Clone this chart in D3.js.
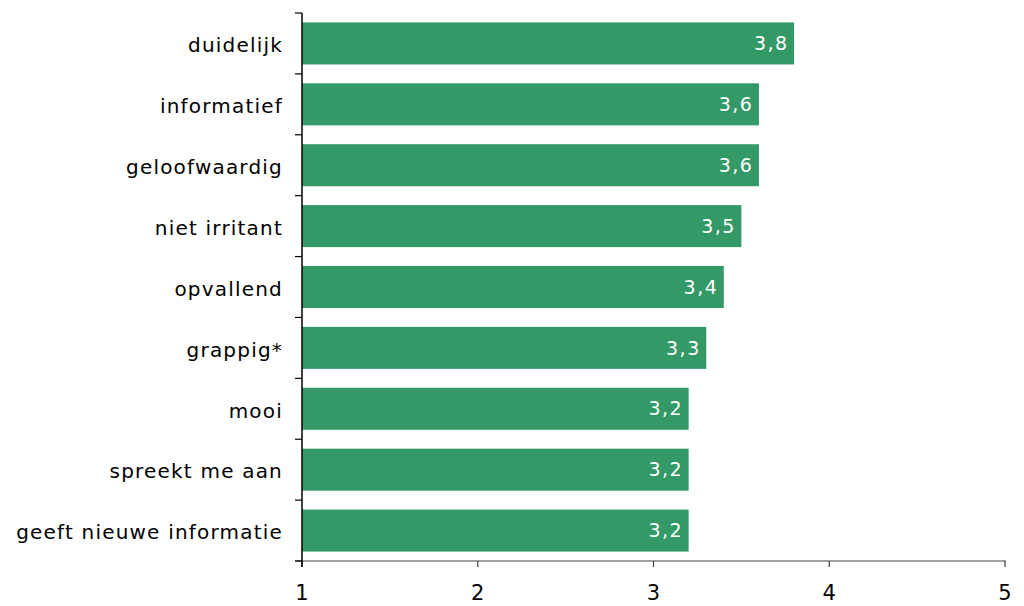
<!DOCTYPE html>
<html><head><meta charset="utf-8">
<script src="https://cdn.jsdelivr.net/npm/d3@7"></script>
<style>body{margin:0;background:#fff}svg{display:block}text{font-family:"DejaVu Sans",Verdana,sans-serif}</style>
</head><body>
<svg id="c" width="1024" height="606"></svg>
<script>
const categories = ["duidelijk","informatief","geloofwaardig","niet irritant","opvallend","grappig*","mooi","spreekt me aan","geeft nieuwe informatie"];
const values = [3.8,3.6,3.6,3.5,3.4,3.3,3.2,3.2,3.2];
const valueLabels = ["3,8","3,6","3,6","3,5","3,4","3,3","3,2","3,2","3,2"];
const xTicks = [1,2,3,4,5];

(function(){
const svg = d3.select("#c");
const pL = 302, pR = 1005, pT = 13, pB = 561;
const x = d3.scaleLinear().domain([1,5]).range([pL,pR]);
const y = d3.scaleBand().domain(categories).range([pT,pB]).paddingInner(0.31).paddingOuter(0.155);

svg.selectAll("rect.bar").data(values).join("rect")
  .attr("class","bar")
  .attr("x", x(1))
  .attr("y",(d,i)=>y(categories[i]))
  .attr("width",d=>x(d)-x(1))
  .attr("height",y.bandwidth())
  .attr("fill","#339966");

svg.selectAll("text.val").data(values).join("text")
  .attr("class","val")
  .attr("x",d=>x(d)-5.5)
  .attr("y",(d,i)=>y(categories[i])+y.bandwidth()/2)
  .attr("dy","0.35em")
  .attr("text-anchor","end")
  .attr("fill","#fff")
  .attr("font-size",19)
  .attr("letter-spacing",1.5)
  .text((d,i)=>valueLabels[i]);

const xg = svg.append("g").attr("transform",`translate(0,${pB})`);
xg.append("line").attr("x1",pL-7).attr("x2",pR+1).attr("stroke","#808080").attr("stroke-width",1.5);
xg.selectAll("line.t").data(xTicks).join("line").attr("class","t")
  .attr("x1",d=>x(d)).attr("x2",d=>x(d)).attr("y1",0).attr("y2",6).attr("stroke","#404040").attr("stroke-width",1.2);
xg.selectAll("text").data(xTicks).join("text")
  .attr("x",d=>x(d)).attr("y",39).attr("text-anchor","middle").attr("font-size",21).attr("fill","#000")
  .text(d=>d);

const step = y.step();
const bounds = d3.range(categories.length+1).map(i=>pT+i*step);
svg.append("line").attr("x1",pL).attr("x2",pL).attr("y1",pT).attr("y2",pB+6).attr("stroke","#000").attr("stroke-width",1.5);
svg.selectAll("line.yt").data(bounds).join("line").attr("class","yt")
  .attr("x1",pL-7).attr("x2",pL).attr("y1",d=>d).attr("y2",d=>d).attr("stroke","#000").attr("stroke-width",1.2);
svg.selectAll("text.cat").data(categories).join("text").attr("class","cat")
  .attr("x",283).attr("y",d=>y(d)+y.bandwidth()/2).attr("dy","0.44em")
  .attr("text-anchor","end").attr("font-size",20).attr("letter-spacing",1.2).attr("fill","#000")
  .text(d=>d);
})();
</script>
</body></html>
